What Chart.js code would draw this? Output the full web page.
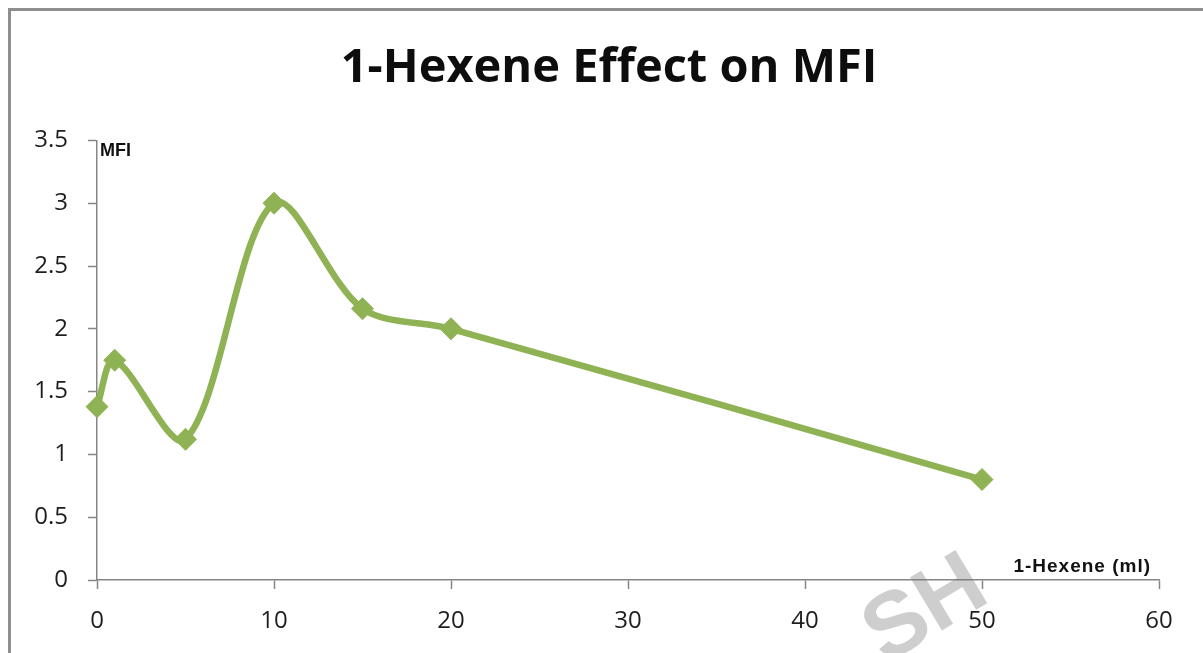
<!DOCTYPE html>
<html>
<head>
<meta charset="utf-8">
<script src="https://cdn.jsdelivr.net/npm/chart.js@4.4.1/dist/chart.umd.min.js"></script>
<style>
  html, body { margin: 0; padding: 0; background: #ffffff; }
  #wrap { width: 1203px; height: 653px; }
</style>
</head>
<body>
<div id="wrap"><canvas id="chart" width="1203" height="653"></canvas></div>
<script>
// 1-hexene added (ml) and the resulting melt flow index
const hexeneMl = [0, 1, 5, 10, 15, 20, 50];
const mfiValues = [1.38, 1.75, 1.12, 3.0, 2.16, 2.0, 0.8];

// axis ranges and tick steps
const xRange = [0, 60];
const xStep = 10;
const yRange = [0, 3.5];
const yStep = 0.5;

const chartTitle = '1-Hexene Effect on MFI';
const yAxisName = 'MFI';
const xAxisName = '1-Hexene (ml)';
const stampText = 'SH';

const lineGreen = '#8fb254';
const axisGrey = '#868686';
const labelInk = '#1e1e1e';

// outer frame of the chart object (top and left edges)
const framePlugin = {
  id: 'frame',
  beforeDraw(chart) {
    const ctx = chart.ctx;
    ctx.save();
    ctx.strokeStyle = '#8e8e8e';
    ctx.lineWidth = 3;
    ctx.beginPath();
    ctx.moveTo(9.5, chart.height);
    ctx.lineTo(9.5, 9.5);
    ctx.lineTo(chart.width, 9.5);
    ctx.stroke();
    ctx.restore();
  }
};

// faint diagonal stamp lettering near the bottom edge
const stampPlugin = {
  id: 'stamp',
  beforeDatasetsDraw(chart) {
    const ctx = chart.ctx;
    ctx.save();
    ctx.translate(926, 611);
    ctx.rotate(-31 * Math.PI / 180);
    ctx.font = 'bold 90px "Liberation Sans", Arial, sans-serif';
    ctx.fillStyle = 'rgba(120,120,120,0.36)';
    ctx.textAlign = 'center';
    ctx.textBaseline = 'middle';
    ctx.fillText(stampText, 0, 0);
    ctx.restore();
  }
};

// axis names placed at the ends of the axes
const axisNamesPlugin = {
  id: 'axisNames',
  afterDraw(chart) {
    const ctx = chart.ctx;
    const x = chart.scales.x;
    const y = chart.scales.y;
    ctx.save();
    ctx.fillStyle = '#111111';
    ctx.font = 'bold 18px "Liberation Sans", Arial, sans-serif';
    ctx.textBaseline = 'middle';
    ctx.textAlign = 'left';
    ctx.fillText(yAxisName, x.getPixelForValue(xRange[0]) + 3, y.getPixelForValue(yRange[1]) + 11);
    ctx.textAlign = 'right';
    ctx.font = 'bold 19px "Liberation Sans", Arial, sans-serif';
    ctx.letterSpacing = '1px';
    ctx.fillText(xAxisName, x.getPixelForValue(xRange[1]) - 8, y.getPixelForValue(yRange[0]) - 13);
    ctx.restore();
  }
};

new Chart(document.getElementById('chart'), {
  type: 'line',
  data: {
    datasets: [{
      data: hexeneMl.map((v, i) => ({ x: v, y: mfiValues[i] })),
      borderColor: lineGreen,
      backgroundColor: lineGreen,
      borderWidth: 6.5,
      tension: 0.32,
      pointStyle: 'rectRot',
      pointRadius: 11,
      pointHoverRadius: 11,
      pointBorderWidth: 1,
      pointBorderColor: lineGreen,
      pointBackgroundColor: lineGreen,
      clip: false,
      fill: false
    }]
  },
  options: {
    responsive: false,
    animation: false,
    events: [],
    layout: { padding: { left: 15, right: 0, top: 0, bottom: 0 } },
    plugins: {
      legend: { display: false },
      tooltip: { enabled: false },
      title: {
        display: true,
        text: chartTitle,
        color: '#0d0d0d',
        font: { family: '"Open Sans", sans-serif', size: 47, weight: 'bold', lineHeight: 1.2 },
        padding: { top: 40, bottom: 44 }
      }
    },
    scales: {
      x: {
        type: 'linear',
        min: xRange[0],
        max: xRange[1],
        ticks: {
          stepSize: xStep,
          color: labelInk,
          padding: 18,
          font: { family: '"Open Sans", sans-serif', size: 24 }
        },
        grid: {
          display: true,
          drawOnChartArea: false,
          drawTicks: true,
          tickLength: 9,
          tickWidth: 1.5,
          tickColor: axisGrey
        },
        border: { display: true, color: axisGrey, width: 1.5 },
        afterFit(scale) { scale.height = 73; }
      },
      y: {
        type: 'linear',
        position: 'left',
        min: yRange[0],
        max: yRange[1],
        ticks: {
          stepSize: yStep,
          color: labelInk,
          padding: 20,
          font: { family: '"Open Sans", sans-serif', size: 24 },
          callback: (v) => String(Math.round(v * 10) / 10)
        },
        grid: {
          display: true,
          drawOnChartArea: false,
          drawTicks: true,
          tickLength: 9,
          tickWidth: 1.5,
          tickColor: axisGrey
        },
        border: { display: true, color: axisGrey, width: 1.5 },
        afterFit(scale) { scale.width = 82; }
      },
      // empty right-hand margin beside the plot
      yRight: {
        type: 'linear',
        position: 'right',
        min: yRange[0],
        max: yRange[1],
        ticks: { display: false },
        grid: { display: false },
        border: { display: false },
        afterFit(scale) { scale.width = 44; }
      }
    }
  },
  plugins: [framePlugin, stampPlugin, axisNamesPlugin]
});
</script>
</body>
</html>
